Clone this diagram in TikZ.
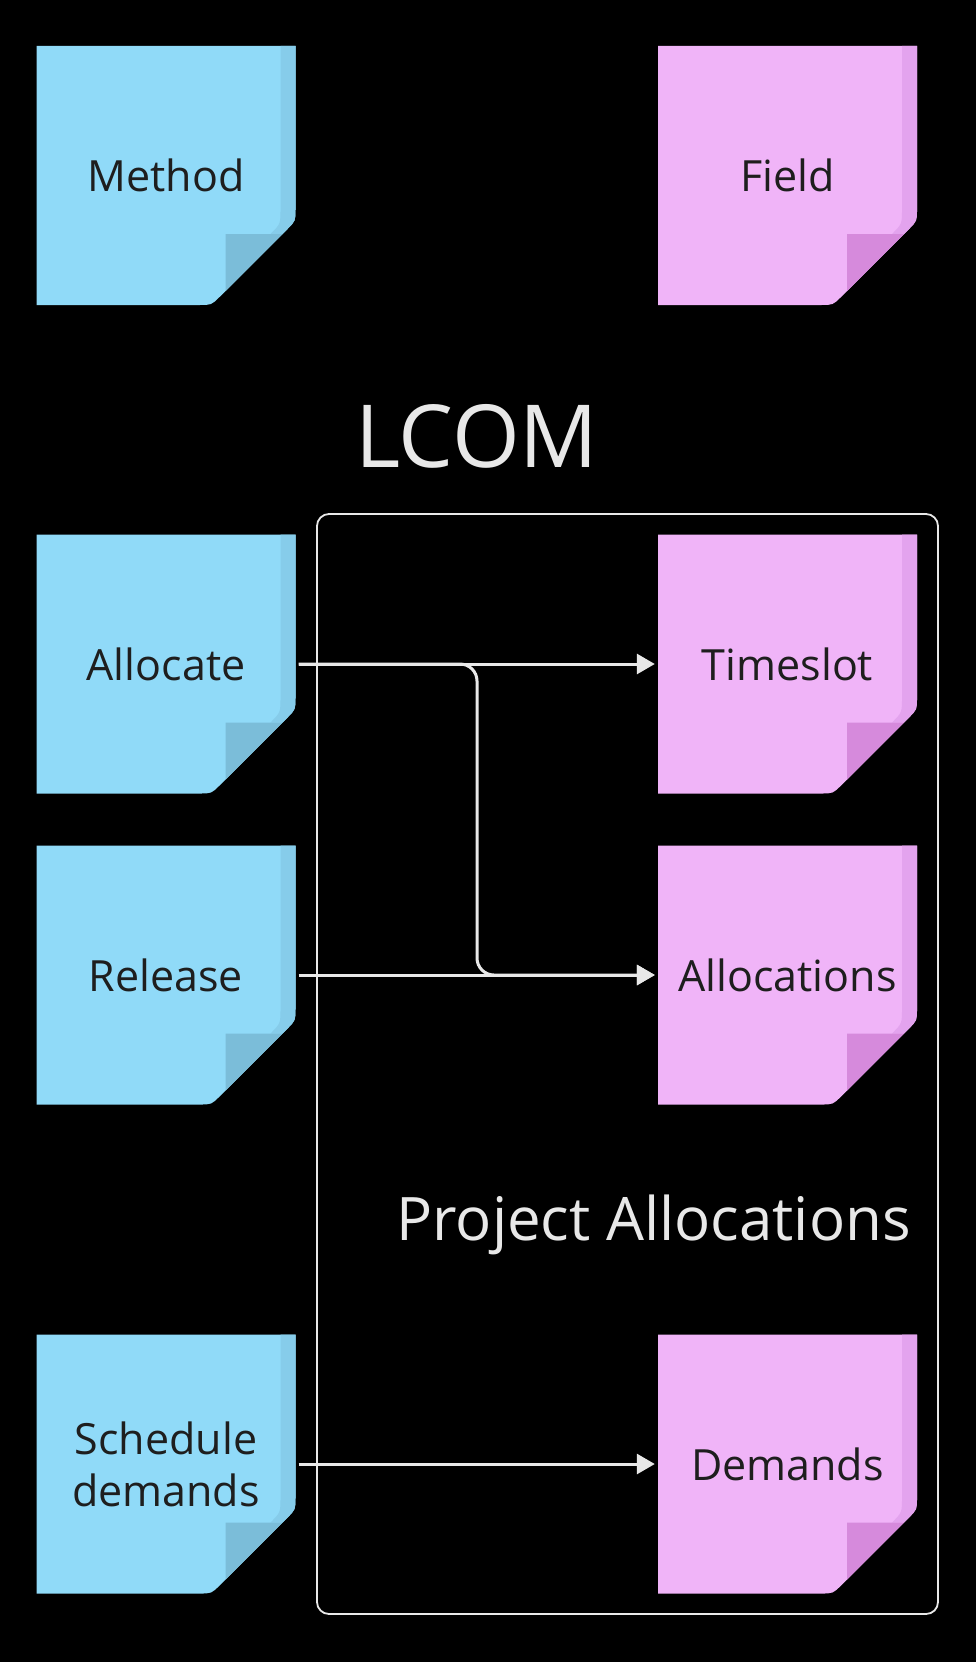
\documentclass[tikz,border=0pt]{standalone}
\usepackage{fontspec}
\setmainfont{Open Sans}
\usetikzlibrary{arrows.meta}
\definecolor{bg}{HTML}{000000}
\definecolor{txt}{HTML}{1E1E1E}
\definecolor{lite}{HTML}{E8E8E8}
\definecolor{blueBody}{HTML}{90DAF8}
\definecolor{blueStrip}{HTML}{86CCEA}
\definecolor{blueFold}{HTML}{7BBDD9}
\definecolor{pinkBody}{HTML}{F0B4F8}
\definecolor{pinkStrip}{HTML}{E3A3EE}
\definecolor{pinkFold}{HTML}{D68ADC}
\tikzset{
  x=1pt, y=-1pt,
  pics/sticky/.style={code={
    \begin{scope}[shift={(-129.5,-129.5)}]
      \fill[#1Body] (0,0) -- (259,0) -- (259,163) .. controls (259,175) .. (250.5,183.5)
        -- (183.5,250.5) .. controls (175,259) .. (163,259) -- (0,259) -- cycle;
      \fill[#1Strip] (244,0) -- (259,0) -- (259,163) .. controls (259,175) .. (250.5,183.5)
        -- (246,188) -- (234,188) .. controls (244,178) .. (244,163) -- cycle;
      \fill[#1Fold] (189,188) -- (246,188) -- (189,245) -- cycle;
    \end{scope}}},
  sticky/.style={minimum width=259pt, minimum height=259pt, inner sep=0pt,
    text width=250pt, align=center, text=txt,
    font=\fontsize{43}{52}\selectfont},
  arr/.style={draw=lite, line width=3pt, -{Triangle[length=18pt,width=20pt]},
    shorten <=3pt, shorten >=3pt},
  container/.style={draw=lite, line width=1.8pt, rounded corners=12pt,
    minimum width=621pt, minimum height=1100pt, inner sep=0pt},
  title/.style={text=lite, inner sep=0pt}
}
\begin{document}
\begin{tikzpicture}
  \fill[bg] (0,0) rectangle (976,1662);
  \useasboundingbox (0,0) rectangle (976,1662);

  \node[container] (group) at (627.5,1064) {};

  \pic at (166,175.5) {sticky=blue};
  \node[sticky] (method) at (166,175.5) {Method};
  \pic at (787.5,175.5) {sticky=pink};
  \node[sticky] (field) at (787.5,175.5) {Field};

  \node[title, anchor=base, font=\fontsize{87}{90}\selectfont] (lcom) at (477,467) {LCOM};
  \node[title, anchor=base east, font=\fontsize{60}{64}\selectfont] (grouplabel) at (911,1240) {Project Allocations};

  \pic at (166,664) {sticky=blue};
  \node[sticky] (allocate) at (166,664) {Allocate};
  \pic at (166,975) {sticky=blue};
  \node[sticky] (release) at (166,975) {Release};
  \pic at (166,1464) {sticky=blue};
  \node[sticky] (schedule) at (166,1464) {Schedule\\demands};

  \pic at (787.5,664) {sticky=pink};
  \node[sticky] (timeslot) at (787.5,664) {Timeslot};
  \pic at (787.5,975) {sticky=pink};
  \node[sticky] (allocations) at (787.5,975) {Allocations};
  \pic at (787.5,1464) {sticky=pink};
  \node[sticky] (demands) at (787.5,1464) {Demands};

  \coordinate (bend) at (477,820);

  \draw[arr] (allocate.east) -- (timeslot.west);
  \draw[arr, rounded corners=17pt] (allocate.east) -| (bend) |- (allocations.west);
  \draw[arr] (release.east) -- (allocations.west);
  \draw[arr] (schedule.east) -- (demands.west);
\end{tikzpicture}
\end{document}
